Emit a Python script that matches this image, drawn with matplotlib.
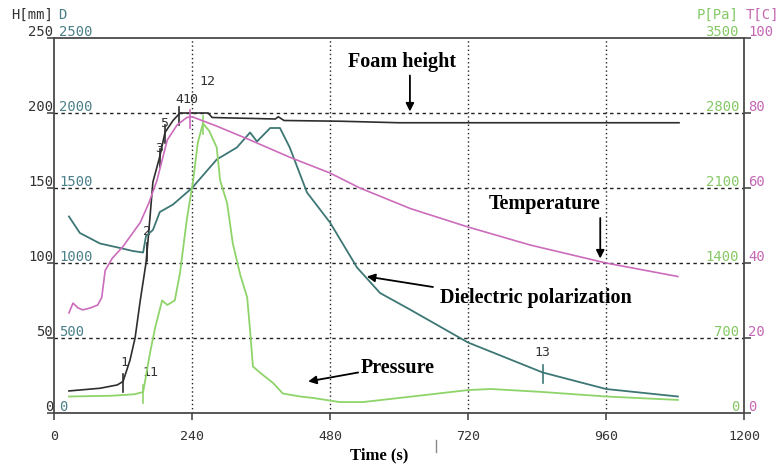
import numpy as np
import matplotlib
matplotlib.use('Agg')
from matplotlib import pyplot as plt
from matplotlib import transforms
from matplotlib.lines import Line2D

# foam height, mm
t_foam = [26, 80, 110, 120, 132, 141, 150, 160, 164, 172, 184, 193, 207, 219, 268, 275,
          385, 390, 400, 500, 600, 700, 1087]
foam_mm = [14.7, 16.5, 18.7, 21, 35, 50, 75, 100, 117, 154, 171, 187, 195, 200, 200, 197,
           196, 197.5, 195, 194.5, 193.5, 193.5, 193.5]

# temperature, C
t_temp = [26, 33, 42, 50, 63, 76, 83, 89, 101, 120, 150, 165, 179, 197, 214, 231,
          240, 283, 341, 410, 480, 532, 620, 720, 828, 960, 1085]
temp_c = [26.7, 29.3, 28, 27.5, 28, 28.8, 30.8, 38, 41.2, 44.4, 50.8, 56, 62, 72.8, 76.8,
          78.8, 79, 76.5, 72.8, 68.2, 64, 60, 54.5, 49.6, 44.8, 40, 36.4]

# dielectric polarization
t_diel = [26, 45, 80, 115, 137, 155, 160, 172, 184, 207, 222, 240, 283, 318, 341, 353, 376,
          393, 410, 440, 480, 527, 567, 619, 720, 850, 960, 1085]
diel = [1310, 1200, 1130, 1100, 1080, 1070, 1180, 1220, 1340, 1390, 1440, 1500, 1690, 1770,
        1870, 1810, 1900, 1900, 1770, 1470, 1270, 970, 800, 690, 470, 270, 160, 110]

# pressure, Pa
t_pres = [26, 100, 140, 155, 167, 176, 188, 197, 210, 219, 231, 242, 250, 259, 270, 283, 289,
          301, 311, 324, 336, 341, 346, 358, 381, 398, 428, 451, 497, 537, 600, 720, 760, 850,
          960, 1085]
pres_pa = [154, 161, 175, 196, 560, 798, 1050, 1008, 1050, 1302, 1806, 2170, 2520, 2702, 2632,
           2478, 2170, 1960, 1582, 1288, 1078, 770, 434, 378, 280, 182, 154, 140, 102, 102, 140,
           214, 224, 196, 154, 122]

time_ticks = [0, 240, 480, 720, 960, 1200]
h_ticks = [0, 50, 100, 150, 200, 250]
d_ticks = [0, 500, 1000, 1500, 2000, 2500]
p_ticks = [0, 700, 1400, 2100, 2800, 3500]
t_ticks = [0, 20, 40, 60, 80, 100]

# numbered event marks on the curves
ev_labels = ['1', '11', '2', '3', '5', '4', '10', '12', '13']
ev_times = [120, 155, 162, 184, 193, 217, 237, 259, 850]
ev_series = ['foam', 'pres', 'foam', 'foam', 'foam', 'foam', 'temp', 'pres', 'diel']

c_foam = '#2e2e2e'
c_temp = '#cc6cbc'
c_diel = '#3d7775'
c_pres = '#8fd46a'
c_axis = '#4a4a4a'
mono = 'DejaVu Sans Mono'
serif = 'Liberation Serif'

fig = plt.figure(figsize=(7.79, 4.66), dpi=100)
ax = fig.add_axes([54 / 779, 1 - 413 / 466, 690 / 779, 375 / 466])
ax_d = ax.twinx()
ax_p = ax.twinx()
ax_t = ax.twinx()

ax.set_xlim(0, 1200)
ax.set_ylim(0, 250)
ax_d.set_ylim(0, 2500)
ax_p.set_ylim(0, 3500)
ax_t.set_ylim(0, 100)

for a in (ax_d, ax_p, ax_t):
    a.axis('off')

for s in ax.spines.values():
    s.set_color(c_axis)
    s.set_linewidth(1.3)

ax.set_xticks(time_ticks)
ax.set_xticklabels([str(v) for v in time_ticks], fontfamily=mono, fontsize=9.5, color='#333333')
ax.set_yticks(h_ticks)
ax.set_yticklabels([])
ax.tick_params(axis='x', direction='out', length=5, width=1.2, color=c_axis, pad=7)
ax.tick_params(axis='y', direction='out', length=5, width=1.2, color=c_axis,
               left=True, right=True)

# grid
for v in h_ticks[1:-1]:
    ax.axhline(v, color='#222222', lw=1.0, ls=(0, (2.5, 2.5)), zorder=1)
for v in time_ticks[1:-1]:
    ax.axvline(v, color='#222222', lw=1.0, ls=(0, (1, 2)), zorder=1)

# curves
ax.plot(t_foam, foam_mm, color=c_foam, lw=1.2, zorder=3)
ax_t.plot(t_temp, temp_c, color=c_temp, lw=1.2, zorder=3)
ax_d.plot(t_diel, diel, color=c_diel, lw=1.3, zorder=3)
ax_p.plot(t_pres, pres_pa, color=c_pres, lw=1.3, zorder=3)

# event ticks
series = {
    'foam': (t_foam, np.array(foam_mm), c_foam),
    'temp': (t_temp, np.array(temp_c) * 2.5, c_temp),
    'diel': (t_diel, np.array(diel) / 10, c_diel),
    'pres': (t_pres, np.array(pres_pa) / 14, c_pres),
}
lab_pos = [(122, 34), (167, 27), (162, 121), (183, 176), (192, 193), (218, 209),
           (237, 209), (266, 221), (850, 40)]
for lab, t, key, (lx, ly) in zip(ev_labels, ev_times, ev_series, lab_pos):
    tt, yy, col = series[key]
    y0 = np.interp(t, tt, yy)
    ax.plot([t, t], [y0 - 7, y0 + 5], color=col, lw=1.2, zorder=4)
    ax.text(lx, ly, lab, fontfamily=mono, fontsize=9.5, color='#333333',
            ha='center', va='center', zorder=5)

# axis value labels (two scales per side)
def side_labels(axis, vals, color, x, dx, ha):
    tr = transforms.blended_transform_factory(ax.transAxes, axis.transData)
    tr = transforms.offset_copy(tr, fig=fig, x=dx, y=6, units='dots')
    for v in vals:
        axis.text(x, v, str(v), transform=tr, fontfamily=mono, fontsize=10,
                  color=color, ha=ha, va='center', clip_on=False)

side_labels(ax, h_ticks, '#333333', 0, -1, 'right')
side_labels(ax_d, d_ticks, '#4a8088', 0, 5, 'left')
side_labels(ax_p, p_ticks, '#86c866', 1, -5, 'right')
side_labels(ax_t, t_ticks, '#c468b4', 1, 4, 'left')

fig.text(53 / 779, 1 - 15 / 466, 'H[mm]', fontfamily=mono, fontsize=10, color='#333333',
         ha='right', va='center')
fig.text(58 / 779, 1 - 15 / 466, 'D', fontfamily=mono, fontsize=10, color='#4a8088',
         ha='left', va='center')
fig.text(739 / 779, 1 - 15 / 466, 'P[Pa]', fontfamily=mono, fontsize=10, color='#86c866',
         ha='right', va='center')
fig.text(746 / 779, 1 - 15 / 466, 'T[C]', fontfamily=mono, fontsize=10, color='#c468b4',
         ha='left', va='center')

# annotations
arrow = dict(arrowstyle='-|>', color='black', lw=1.3, mutation_scale=12, shrinkA=0, shrinkB=0)
tfont = dict(fontfamily=serif, fontweight='bold', fontsize=14.5, color='black',
             ha='center', va='center')
ax.text(605, 234, 'Foam height', **tfont)
ax.annotate('', xy=(619, 201), xytext=(619, 225), arrowprops=arrow)
ax.text(854, 139, 'Temperature', **tfont)
ax.annotate('', xy=(950, 103), xytext=(950, 130), arrowprops=arrow)
ax.text(838, 77, 'Dielectric polarization', **tfont)
ax.annotate('', xy=(544, 91), xytext=(659, 84), arrowprops=arrow)
ax.text(598, 30, 'Pressure', **tfont)
ax.annotate('', xy=(442, 21), xytext=(529, 27), arrowprops=arrow)

fig.text(379 / 779, 1 - 455 / 466, 'Time (s)', fontfamily=serif, fontweight='bold',
         fontsize=12, ha='center', va='center')
fig.add_artist(Line2D([436 / 779, 436 / 779], [1 - 440 / 466, 1 - 452 / 466],
                      color='#888888', lw=1.0))

fig.savefig('out.png', dpi=100)
